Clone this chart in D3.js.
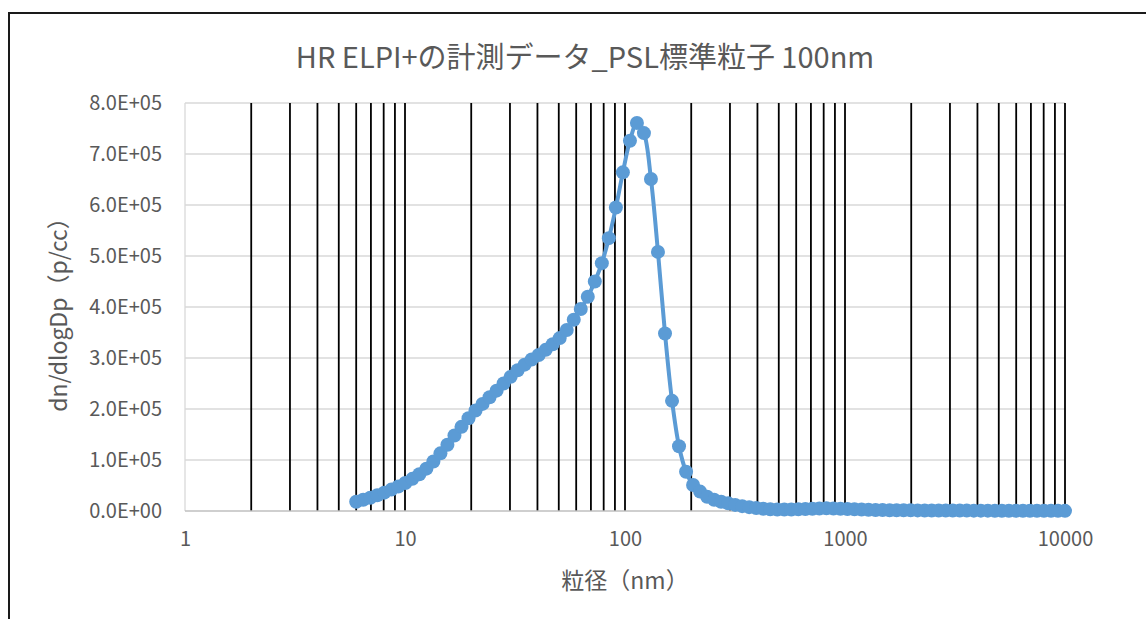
<!DOCTYPE html>
<head>
<meta charset="utf-8">
<script src="https://d3js.org/d3.v7.min.js"></script>
</head>
<body>
<style>
  body { margin: 0; background: #fff; }
  * { font-family: "Noto Sans CJK JP", "Noto Sans", sans-serif; }
</style>
<div id="viz"></div>
<script>

// particle diameter bins (nm)
var diameters = [6.00, 6.457, 6.950, 7.480, 8.05, 8.67, 9.32, 10.03, 10.80, 11.62,
  12.51, 13.46, 14.49, 15.59, 16.78, 18.06, 19.44, 20.92, 22.51, 24.23,
  26.08, 28.06, 30.20, 32.50, 34.98, 37.64, 40.51, 43.60, 46.92, 50.50,
  54.35, 58.49, 62.95, 67.75, 72.91, 78.47, 84.45, 90.89, 97.81, 105.3,
  113.3, 121.9, 131.2, 141.2, 152.0, 163.6, 176.0, 189.5, 203.9, 219.4,
  236.2, 254.2, 273.5, 294.4, 316.8, 341.0, 366.9, 394.9, 425.0, 457.4,
  492.3, 529.8, 570.2, 613.6, 660.4, 710.7, 764.9, 823.2, 885.9, 953.4,
  1026, 1104, 1189, 1279, 1377, 1482, 1595, 1716, 1847, 1988,
  2139, 2302, 2477, 2666, 2870, 3088, 3324, 3577, 3850, 4143,
  4459, 4799, 5164, 5558, 5981, 6437, 6928, 7456, 8024, 8636,
  9294, 10000];

// dn/dlogDp (p/cc)
var dndlogdp = [18000, 22000, 26000, 31000, 36000, 42000, 48000, 55000, 63000, 72000,
  83000, 97000, 113000, 130000, 148000, 165000, 182000, 197000, 210000, 223000,
  236000, 250000, 263000, 276000, 287000, 297000, 306000, 316000, 327000, 339000,
  355000, 375000, 396000, 420000, 450000, 486000, 535000, 595000, 664000, 726000,
  761000, 741000, 651000, 508000, 348000, 216000, 127000, 77000, 51000, 38000,
  28000, 22000, 18000, 15000, 12000, 9500, 7500, 6000, 4500, 3500,
  3000, 2800, 3000, 3500, 4000, 4500, 5000, 5200, 5000, 4500,
  4000, 3500, 3000, 2500, 2000, 1800, 1600, 1500, 1400, 1300,
  1200, 1100, 1000, 1000, 900, 900, 800, 800, 700, 700,
  700, 600, 600, 600, 500, 500, 500, 400, 400, 400,
  300, 300];

var xTicks = [1, 10, 100, 1000, 10000];
var yTicks = [0, 100000, 200000, 300000, 400000, 500000, 600000, 700000, 800000];
// vertical grid lines (2..9 of every decade, and the decades)
var xGrid = [2,3,4,5,6,7,8,9,10, 20,30,40,50,60,70,80,90,100,
  200,300,400,500,600,700,800,900,1000, 2000,3000,4000,5000,6000,7000,8000,9000,10000];

var title = "HR ELPI+の計測データ_PSL標準粒子 100nm";
var xTitle = "粒径（nm）";
var yTitle = "dn/dlogDp（p/cc）";

var data = diameters.map(function(d, i) { return {dp: d, v: dndlogdp[i]}; });

var W = 1146, H = 619;
var plotLeft = 185, plotRight = 1065, plotTop = 103, plotBottom = 511;

var svg = d3.select("#viz").append("svg")
    .attr("width", W)
    .attr("height", H);

// chart border
svg.append("rect")
    .attr("x", 9).attr("y", 13)
    .attr("width", W + 20).attr("height", H + 20)
    .attr("fill", "#fff")
    .attr("stroke", "#1a1a1a")
    .attr("stroke-width", 2);

var x = d3.scaleLog().domain([1, 10000]).range([plotLeft, plotRight]);
var y = d3.scaleLinear().domain([0, 800000]).range([plotBottom, plotTop]);

function sci(v) {
  if (v === 0) return "0.0E+00";
  var e = Math.floor(Math.log10(v));
  var m = v / Math.pow(10, e);
  return m.toFixed(1) + "E+" + (e < 10 ? "0" + e : e);
}

// horizontal grid
svg.append("g").selectAll("line")
  .data(yTicks.slice(1))
  .enter().append("line")
    .attr("x1", plotLeft).attr("x2", plotRight)
    .attr("y1", function(d) { return y(d); })
    .attr("y2", function(d) { return y(d); })
    .attr("stroke", "#d9d9d9")
    .attr("stroke-width", 1.3);

// left axis line
svg.append("line")
    .attr("x1", plotLeft).attr("x2", plotLeft)
    .attr("y1", plotTop).attr("y2", plotBottom)
    .attr("stroke", "#d9d9d9")
    .attr("stroke-width", 1.3);

// vertical grid
svg.append("g").selectAll("line")
  .data(xGrid)
  .enter().append("line")
    .attr("x1", function(d) { return x(d); })
    .attr("x2", function(d) { return x(d); })
    .attr("y1", plotTop).attr("y2", plotBottom)
    .attr("stroke", "#000")
    .attr("stroke-width", 1.8);

// x axis line
svg.append("line")
    .attr("x1", plotLeft).attr("x2", plotRight)
    .attr("y1", plotBottom).attr("y2", plotBottom)
    .attr("stroke", "#bfbfbf")
    .attr("stroke-width", 1.6);

var yAxis = svg.append("g")
    .attr("transform", "translate(" + plotLeft + ",0)")
    .call(d3.axisLeft(y).tickValues(yTicks).tickFormat(sci).tickSize(0).tickPadding(23));
yAxis.select(".domain").remove();
yAxis.selectAll("text")
    .style("font-size", "20px")
    .style("fill", "#595959");

var xAxis = svg.append("g")
    .attr("transform", "translate(0," + plotBottom + ")")
    .call(d3.axisBottom(x).tickValues(xTicks).tickFormat(d3.format("d")).tickSize(0).tickPadding(21));
xAxis.select(".domain").remove();
xAxis.selectAll("text")
    .style("font-size", "20px")
    .style("fill", "#595959");

// series
var blue = "#5b9bd5";
svg.append("path")
    .datum(data)
    .attr("fill", "none")
    .attr("stroke", blue)
    .attr("stroke-width", 4)
    .attr("d", d3.line()
      .curve(d3.curveCatmullRom)
      .x(function(d) { return x(d.dp); })
      .y(function(d) { return y(d.v); }));

svg.append("g").selectAll("circle")
  .data(data)
  .enter().append("circle")
    .attr("cx", function(d) { return x(d.dp); })
    .attr("cy", function(d) { return y(d.v); })
    .attr("r", 7)
    .attr("fill", blue);

// titles
svg.append("text")
    .attr("x", 585).attr("y", 68)
    .attr("text-anchor", "middle")
    .style("font-size", "29px")
    .style("fill", "#595959")
    .text(title);

svg.append("text")
    .attr("x", 625).attr("y", 589)
    .attr("text-anchor", "middle")
    .style("font-size", "23px")
    .style("fill", "#595959")
    .text(xTitle);

svg.append("text")
    .attr("transform", "translate(67,309) rotate(-90)")
    .attr("text-anchor", "middle")
    .style("font-size", "23px")
    .style("fill", "#595959")
    .text(yTitle);

</script>
</body>
